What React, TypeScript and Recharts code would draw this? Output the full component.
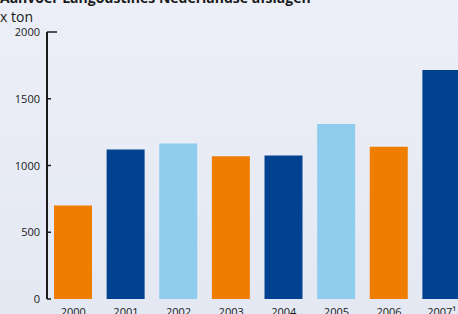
import { BarChart, Bar, XAxis, YAxis, Cell } from 'recharts'

const jaren = ['2000', '2001', '2002', '2003', '2004', '2005', '2006', '2007¹']
const aanvoer = [700, 1120, 1165, 1070, 1075, 1310, 1140, 1715]
const kleuren = ['#ee7d00', '#00428f', '#8ecdee', '#ee7d00', '#00428f', '#8ecdee', '#ee7d00', '#00428f']
const yTicks = [0, 500, 1000, 1500, 2000]
const grensTicks = [1, 2, 3, 4, 5, 6, 7]

const data = jaren.map((jaar, i) => ({ jaar, ton: aanvoer[i], pos: i + 0.5 }))

const font = '"Open Sans", "DejaVu Sans", sans-serif'

// y-as labels links, streepje naar binnen (rechts van de as)
function YTick(props: any) {
  const { x, y, payload } = props
  const len = payload.value === 2000 ? 10 : 4
  return (
    <g>
      <text x={x} y={y} dy={4} textAnchor="end" fontSize={11} fill="#1a1a1a" fontFamily={font}>
        {payload.value}
      </text>
      <line x1={x + 7} x2={x + 7 + len} y1={y} y2={y} stroke="#1a1a1a" strokeWidth={1.5} />
    </g>
  )
}

export default function App() {
  return (
    <div
      style={{
        position: 'absolute',
        left: 0,
        top: 0,
        width: 458,
        height: 314,
        overflow: 'hidden',
        background: 'linear-gradient(180deg, #eceff7 0%, #e4e8f3 100%)',
        fontFamily: font,
      }}
    >
      <div style={{ position: 'absolute', left: 0, top: -12, fontSize: 14, fontWeight: 700, color: '#1a1a1a', whiteSpace: 'nowrap' }}>
        Aanvoer Langoustines Nederlandse afslagen
      </div>
      <div style={{ position: 'absolute', left: 0, top: 7, fontSize: 14, color: '#1a1a1a' }}>x ton</div>
      <div style={{ position: 'absolute', left: 0, top: 0 }}>
        <BarChart width={470} height={330} data={data} margin={{ top: 32, right: 2, bottom: 1, left: 0 }}>
          <XAxis
            xAxisId="grens"
            type="number"
            dataKey="pos"
            domain={[0, 8]}
            ticks={grensTicks}
            tick={() => <g />}
            height={0}
            tickSize={-6}
            tickMargin={0}
            axisLine={{ stroke: '#1a1a1a', strokeWidth: 2 }}
            tickLine={{ stroke: '#1a1a1a', strokeWidth: 1.5 }}
          />
          <XAxis
            xAxisId="cat"
            dataKey="jaar"
            height={30}
            axisLine={false}
            tickLine={false}
            tickSize={0}
            tickMargin={9}
            interval={0}
            tick={{ fontSize: 11, fill: '#1a1a1a', fontFamily: font }}
          />
          <YAxis
            width={47}
            domain={[0, 2000]}
            ticks={yTicks}
            tickSize={0}
            tickMargin={7}
            tickLine={false}
            axisLine={{ stroke: '#1a1a1a', strokeWidth: 2 }}
            tick={<YTick />}
          />
          <Bar xAxisId="cat" dataKey="ton" barSize={38} isAnimationActive={false}>
            {data.map((d, i) => (
              <Cell key={d.jaar} fill={kleuren[i]} />
            ))}
          </Bar>
        </BarChart>
      </div>
    </div>
  )
}
